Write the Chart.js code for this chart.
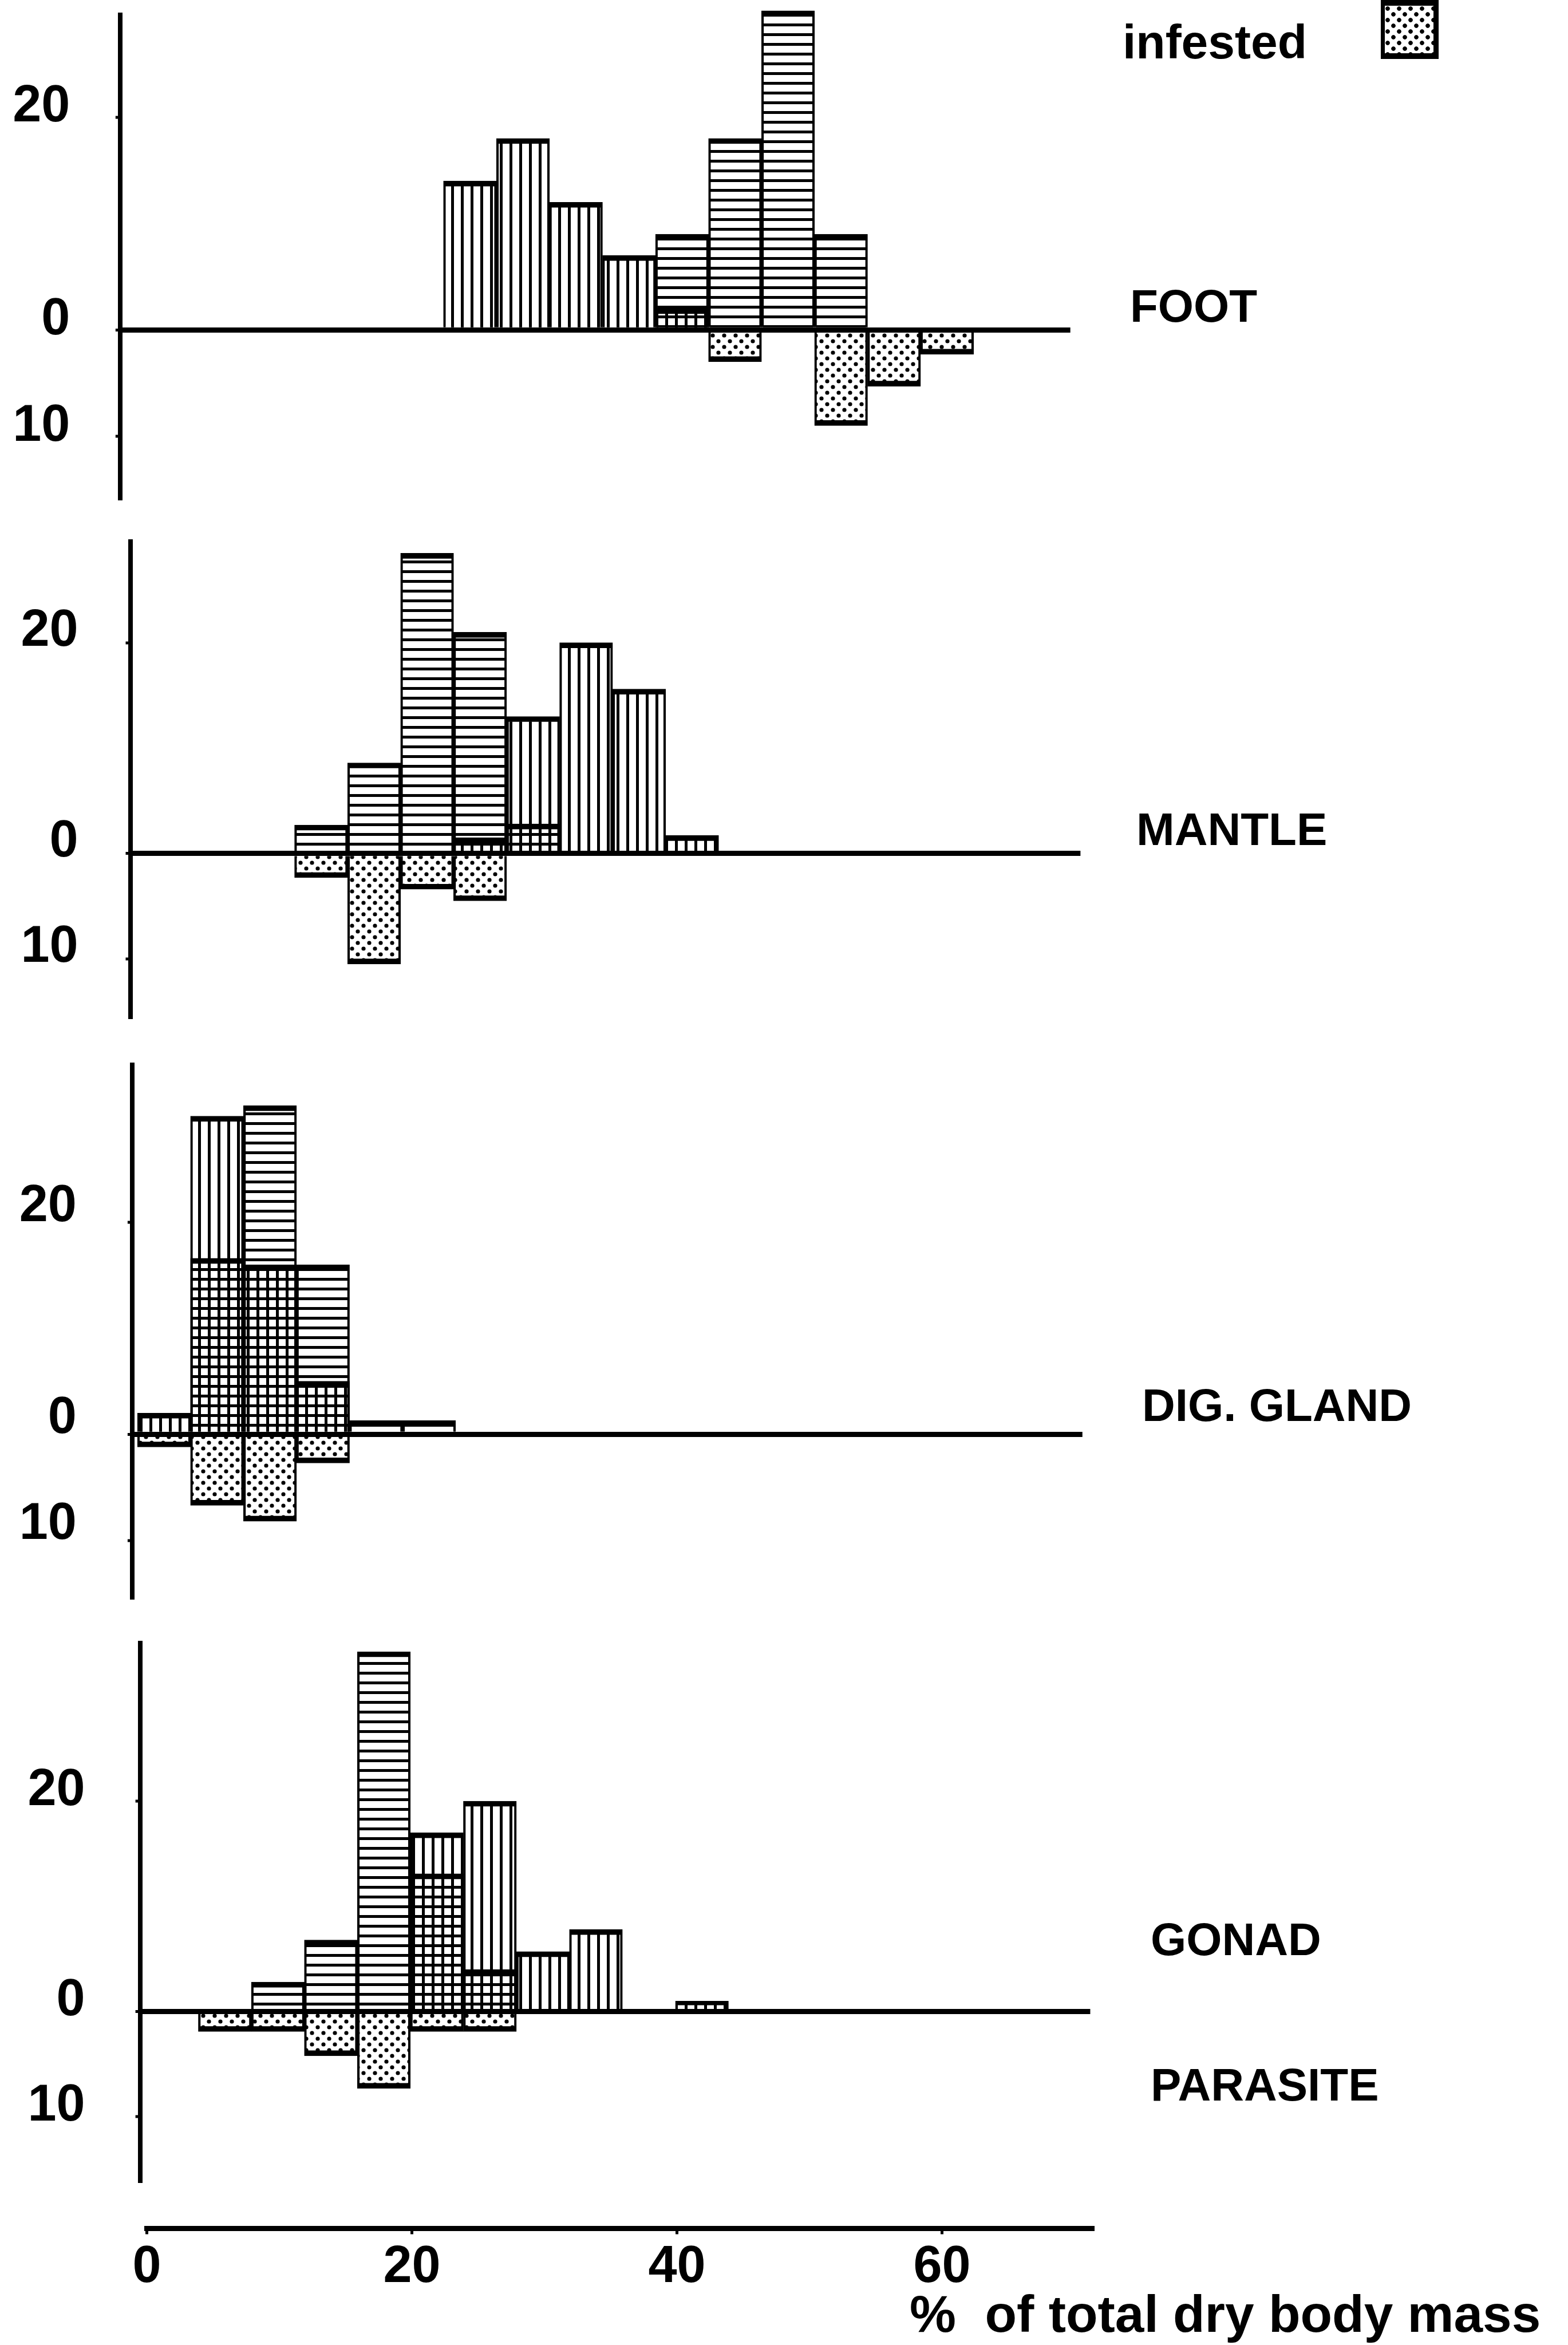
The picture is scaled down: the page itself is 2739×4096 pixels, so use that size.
<!DOCTYPE html>
<html>
<head>
<meta charset="utf-8">
<script src="https://cdn.jsdelivr.net/npm/chart.js@4/dist/chart.umd.min.js"></script>
<style>
html,body{margin:0;padding:0;background:#fff;}
body{width:2739px;height:4096px;position:relative;overflow:hidden;font-family:'Liberation Sans',Arial,Helvetica,sans-serif;}
canvas{position:absolute;}
.lbl{position:absolute;font-weight:bold;line-height:1;white-space:pre;color:#000;}
#legbox{position:absolute;left:2412px;top:0px;width:101px;height:103px;box-sizing:border-box;
  border-style:solid;border-color:#000;border-width:10px 9px 10px 7px;
  background-image:radial-gradient(circle at 5px 5px,#000 3.4px,rgba(0,0,0,0) 4.2px),radial-gradient(circle at 15px 15px,#000 3.4px,rgba(0,0,0,0) 4.2px);
  background-size:20px 20px;}
</style>
</head>
<body>
<div class="lbl" style="left:1961px;top:31px;font-size:84px;">infested</div>
<div id="legbox"></div>
<div class="lbl" style="left:1974px;top:495px;font-size:80px;">FOOT</div>
<div class="lbl" style="left:1985px;top:1409px;font-size:80px;">MANTLE</div>
<div class="lbl" style="left:1995px;top:2415px;font-size:80px;">DIG. GLAND</div>
<div class="lbl" style="left:2010px;top:3348px;font-size:80px;">GONAD</div>
<div class="lbl" style="left:2010px;top:3602px;font-size:80px;">PARASITE</div>
<div class="lbl" style="left:1589px;top:3996px;font-size:91px;">%  of total dry body mass</div>

<canvas id="cFoot"></canvas>
<canvas id="cMantle"></canvas>
<canvas id="cDig"></canvas>
<canvas id="cGonad"></canvas>
<canvas id="cAxis"></canvas>

<script>
// ---------------- DATA (bins of 4 % : 0-4, 4-8, ... 60-64) ----------------
const binCentres = [2, 6, 10, 14, 18, 22, 26, 30, 34, 38, 42, 46, 50, 54, 58, 62];

const footVertical     = [null, null, null, null, null, null, 14, 18, 12, 7, 2, null, null, null, null, null];
const footHorizontal   = [null, null, null, null, null, null, null, null, null, null, 9, 18, 30, 9, null, null];
const footInfested     = [null, null, null, null, null, null, null, null, null, null, null, -3, null, -9, -5.3, -2.3];

const mantleVertical   = [null, null, null, null, null, null, 1.5, 13, 20, 15.6, 1.7, null, null, null, null, null];
const mantleHorizontal = [null, null, null, 2.7, 8.6, 28.5, 21, 2.8, null, null, null, null, null, null, null, null];
const mantleInfested   = [null, null, null, -2.3, -10.5, -3.4, -4.5, null, null, null, null, null, null, null, null, null];

const digVertical      = [2, 30, 16, 5, null, null, null, null, null, null, null, null, null, null, null, null];
const digHorizontal    = [null, 16.6, 31, 16, 1.3, 1.3, null, null, null, null, null, null, null, null, null, null];
const digInfested      = [-1.2, -6.7, -8.2, -2.7, null, null, null, null, null, null, null, null, null, null, null, null];

const gonadVertical    = [null, null, null, null, null, 17, 20, 5.7, 7.8, null, 1, null, null, null, null, null];
const gonadHorizontal  = [null, null, 2.8, 6.8, 34.2, 13.1, 4, null, null, null, null, null, null, null, null, null];
const gonadInfested    = [null, -1.9, -1.9, -4.2, -7.3, -1.9, -1.9, null, null, null, null, null, null, null, null, null];

const yTickValues = [-10, 0, 20];
const xTickValues = [0, 20, 40, 60];
const binWidth = 4;

// ---------------- STYLE / LAYOUT ----------------
const FONT = "'Liberation Sans', Arial, Helvetica, sans-serif";
const TICK_FONT_SIZE = 90;
const X_MIN = -0.4, X_MAX = 71.3, X_UNIT = 23.15;

function makeTile(w, h, draw) {
  const c = document.createElement('canvas');
  c.width = w; c.height = h;
  const g = c.getContext('2d');
  g.fillStyle = '#000';
  draw(g);
  return c;
}
const tileV = makeTile(17, 17, g => g.fillRect(6, 0, 5, 17));
const tileH = makeTile(17, 17, g => g.fillRect(0, 6, 17, 5));
const tileD = makeTile(20, 20, g => {
  g.beginPath(); g.arc(5, 5, 3.6, 0, Math.PI * 2); g.fill();
  g.beginPath(); g.arc(15, 15, 3.6, 0, Math.PI * 2); g.fill();
});

function toPoints(arr) {
  return binCentres.map((x, i) => ({x: x, y: arr[i]})).filter(p => p.y !== null);
}

function panel(canvasId, geo, vert, horiz, inf) {
  const canvas = document.getElementById(canvasId);
  const ctx = canvas.getContext('2d');
  const patV = ctx.createPattern(tileV, 'repeat');
  const patH = ctx.createPattern(tileH, 'repeat');
  const patD = ctx.createPattern(tileD, 'repeat');

  const areaW = (X_MAX - X_MIN) * X_UNIT;
  const chartTop = geo.zeroY - geo.yMax * geo.unitY;
  const chartBottom = geo.zeroY - geo.yMin * geo.unitY;
  const canvasTop = Math.floor(chartTop - 24);
  const padTop = chartTop - canvasTop;
  const canvasH = Math.ceil(chartBottom + 14) - canvasTop;
  const padBottom = canvasTop + canvasH - chartBottom;
  const canvasW = Math.ceil(geo.axisX + areaW + 10);
  const padRight = canvasW - geo.axisX - areaW;
  canvas.width = canvasW; canvas.height = canvasH;
  canvas.style.left = '0px'; canvas.style.top = canvasTop + 'px';

  const common = {
    borderColor: '#000', borderSkipped: 'start', grouped: false,
    barThickness: binWidth * X_UNIT, categoryPercentage: 1, barPercentage: 1, clip: false
  };
  const posBorder = {top: 9, left: 3.5, right: 3.5, bottom: 0};
  const negBorder = {top: 0, left: 3.5, right: 3.5, bottom: 9};

  return new Chart(canvas, {
    type: 'bar',
    data: {
      datasets: [
        Object.assign({label: 'vertical hatching', data: toPoints(vert), backgroundColor: patV, borderWidth: posBorder}, common),
        Object.assign({label: 'horizontal hatching', data: toPoints(horiz), backgroundColor: patH, borderWidth: posBorder}, common),
        Object.assign({label: 'infested', data: toPoints(inf), backgroundColor: patD, borderWidth: negBorder}, common)
      ]
    },
    options: {
      responsive: false, animation: false, devicePixelRatio: 1, events: [],
      layout: {autoPadding: false, padding: {left: 0, top: padTop, right: padRight, bottom: padBottom}},
      plugins: {legend: {display: false}, tooltip: {enabled: false}},
      scales: {
        x: {type: 'linear', min: X_MIN, max: X_MAX, offset: false, grid: {offset: false}, display: false},
        y: {
          min: geo.yMin, max: geo.yMax,
          afterBuildTicks: s => { s.ticks = yTickValues.map(v => ({value: v})); },
          afterFit: s => { s.width = geo.axisX; s.paddingTop = 0; s.paddingBottom = 0; s.paddingLeft = 0; s.paddingRight = 0; },
          border: {display: true, color: '#000', width: 8},
          grid: {
            color: c => (c.tick && c.tick.value === 0) ? '#000' : 'rgba(0,0,0,0)',
            lineWidth: c => (c.tick && c.tick.value === 0) ? 9 : 4,
            tickColor: '#000', tickLength: 8, tickWidth: 5, drawTicks: true
          },
          ticks: {
            autoSkip: false, color: '#000', padding: geo.labelPad, labelOffset: geo.labelOffset,
            font: {family: FONT, size: TICK_FONT_SIZE, weight: 'bold'},
            callback: v => String(Math.abs(v))
          }
        }
      }
    }
  });
}

panel('cFoot',   {axisX: 209.8, zeroY: 576.2,  unitY: 18.58, yMax: 29.63, yMin: -15.9,  labelPad: 79.5, labelOffset: -17}, footVertical, footHorizontal, footInfested);
panel('cMantle', {axisX: 227.5, zeroY: 1490.7, unitY: 18.4,  yMax: 29.6,  yMin: -15.6,  labelPad: 83,   labelOffset: -20}, mantleVertical, mantleHorizontal, mantleInfested);
panel('cDig',    {axisX: 230.9, zeroY: 2505.3, unitY: 18.52, yMax: 34.85, yMin: -15.46, labelPad: 89,   labelOffset: -27}, digVertical, digHorizontal, digInfested);
panel('cGonad',  {axisX: 244.6, zeroY: 3513.6, unitY: 18.38, yMax: 35.0,  yMin: -16.2,  labelPad: 88,   labelOffset: -18}, gonadVertical, gonadHorizontal, gonadInfested);

// ---------------- shared x axis ----------------
(function () {
  const canvas = document.getElementById('cAxis');
  const axLeft = 256.6, axMax = 71.5;
  const areaW = axMax * X_UNIT;
  const canvasW = Math.ceil(axLeft + areaW + 60);
  const canvasTop = 3842, canvasH = 4096 - canvasTop;
  canvas.width = canvasW; canvas.height = canvasH;
  canvas.style.left = '0px'; canvas.style.top = canvasTop + 'px';
  new Chart(canvas, {
    type: 'scatter',
    data: {datasets: [{label: 'axis', data: []}]},
    options: {
      responsive: false, animation: false, devicePixelRatio: 1, events: [],
      layout: {autoPadding: false, padding: {left: axLeft, right: canvasW - axLeft - areaW, top: 0, bottom: 0}},
      plugins: {legend: {display: false}, tooltip: {enabled: false}},
      scales: {
        x: {
          type: 'linear', min: 0, max: axMax, position: 'bottom', offset: false,
          afterBuildTicks: s => { s.ticks = xTickValues.map(v => ({value: v})); },
          afterFit: s => { s.height = canvasH - 50.5; s.paddingLeft = 0; s.paddingRight = 0; },
          border: {display: true, color: '#000', width: 9},
          grid: {offset: false, drawOnChartArea: false, drawTicks: true, tickLength: 10, tickWidth: 5, tickColor: '#000', color: '#000'},
          ticks: {autoSkip: false, maxRotation: 0, padding: 5, color: '#000', font: {family: FONT, size: TICK_FONT_SIZE, weight: 'bold'}}
        },
        y: {display: false, min: 0, max: 1}
      }
    }
  });
})();
</script>
</body>
</html>
